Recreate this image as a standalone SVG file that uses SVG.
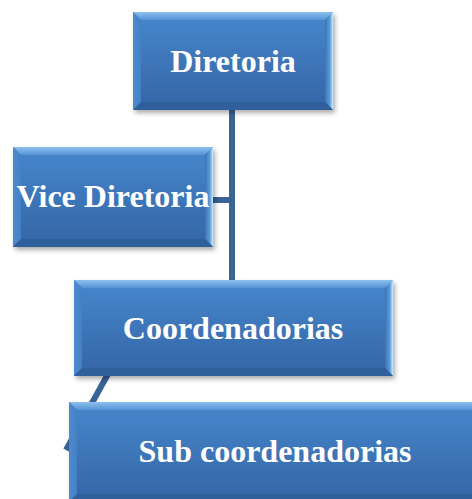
<svg xmlns="http://www.w3.org/2000/svg" width="472" height="499" viewBox="0 0 472 499">
  <defs>
    <linearGradient id="gMain" x1="0" y1="0" x2="0" y2="1">
      <stop offset="0" stop-color="#4787CD"/>
      <stop offset="1" stop-color="#3365A5"/>
    </linearGradient>
    <linearGradient id="gTop" x1="0" y1="0" x2="0" y2="1">
      <stop offset="0" stop-color="#8EC0EE"/>
      <stop offset="1" stop-color="#5592D6"/>
    </linearGradient>
    <linearGradient id="gRight" x1="0" y1="0" x2="1" y2="0">
      <stop offset="0" stop-color="#3C74B6"/>
      <stop offset="0.6" stop-color="#5C9AD8"/>
      <stop offset="1" stop-color="#CDEFFF"/>
    </linearGradient>
    <linearGradient id="gLeft" x1="0" y1="0" x2="1" y2="0">
      <stop offset="0" stop-color="#4E8BCE"/>
      <stop offset="1" stop-color="#4480C5"/>
    </linearGradient>
    <filter id="shadow" x="-10%" y="-10%" width="130%" height="140%">
      <feGaussianBlur stdDeviation="2.5"/>
    </filter>
    <style>
      .sh { fill: #000; opacity: 0.33; filter: url(#shadow); }
      .main { fill: url(#gMain); }
      .top { fill: url(#gTop); }
      .left { fill: url(#gLeft); }
      .right { fill: url(#gRight); }
      .bot { fill: #30609C; }
      .lbl { fill: #FFFFFF; font-family: "Liberation Serif", "Times New Roman", serif; font-weight: bold; font-size: 32px; text-anchor: middle; }
      .conn { stroke: #3A6396; stroke-width: 6; fill: none; }
    </style>
  </defs>
  <rect width="472" height="499" fill="#FFFFFF"/>

  <g id="connectors">
    <line class="conn" x1="232" y1="108" x2="232" y2="282"/>
    <line class="conn" x1="211" y1="200" x2="232" y2="200"/>
    <line class="conn" x1="108" y1="374" x2="66" y2="450"/>
  </g>

  <g id="diretoria">
    <rect class="sh" x="135" y="15" width="200" height="98"/>
    <rect class="main" x="133" y="12" width="200" height="98"/>
    <polygon class="top" points="133,12 333,12 325,20 141,20"/>
    <polygon class="left" points="133,12 141,20 141,102 133,110"/>
    <polygon class="right" points="333,12 333,110 325,102 325,20"/>
    <polygon class="bot" points="133,110 333,110 325,102 141,102"/>
    <text class="lbl" x="233" y="72">Diretoria</text>
  </g>

  <g id="vice-diretoria">
    <rect class="sh" x="15" y="150" width="200" height="100"/>
    <rect class="main" x="13" y="147" width="200" height="100"/>
    <polygon class="top" points="13,147 213,147 205,155 21,155"/>
    <polygon class="left" points="13,147 21,155 21,239 13,247"/>
    <polygon class="right" points="213,147 213,247 205,239 205,155"/>
    <polygon class="bot" points="13,247 213,247 205,239 21,239"/>
    <text class="lbl" x="113" y="207">Vice Diretoria</text>
  </g>

  <g id="coordenadorias">
    <rect class="sh" x="76" y="283" width="319" height="96"/>
    <rect class="main" x="74" y="280" width="319" height="96"/>
    <polygon class="top" points="74,280 393,280 385,288 82,288"/>
    <polygon class="left" points="74,280 82,288 82,368 74,376"/>
    <polygon class="right" points="393,280 393,376 385,368 385,288"/>
    <polygon class="bot" points="74,376 393,376 385,368 82,368"/>
    <text class="lbl" x="233" y="339">Coordenadorias</text>
  </g>

  <g id="sub-coordenadorias">
    <rect class="sh" x="71" y="405" width="412" height="100"/>
    <rect class="main" x="69" y="402" width="412" height="100"/>
    <polygon class="top" points="69,402 481,402 473,410 77,410"/>
    <polygon class="left" points="69,402 77,410 77,494 69,502"/>
    <polygon class="right" points="481,402 481,502 473,494 473,410"/>
    <polygon class="bot" points="69,502 481,502 473,494 77,494"/>
    <text class="lbl" x="275" y="462">Sub coordenadorias</text>
  </g>
</svg>
